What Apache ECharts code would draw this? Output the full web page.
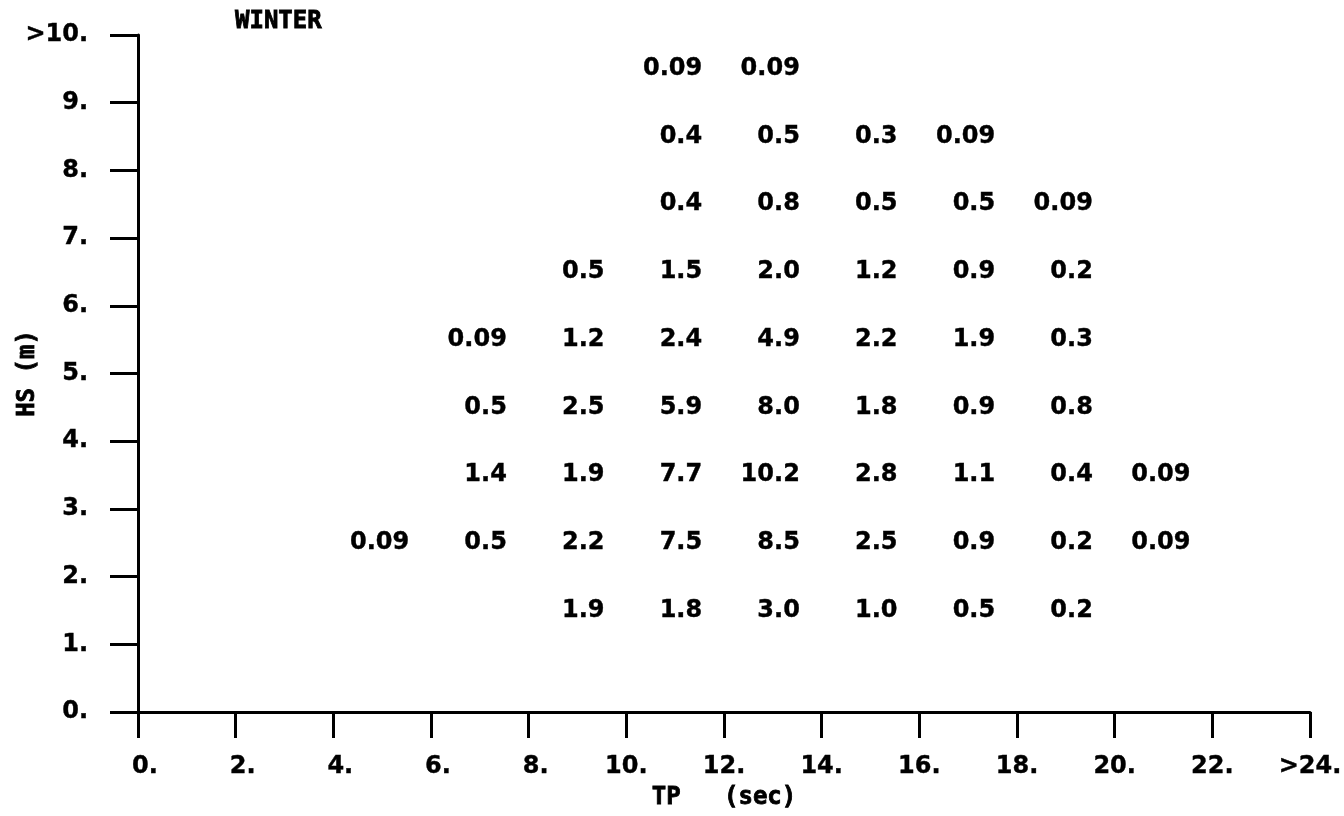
<!DOCTYPE html>
<html>
<head>
<meta charset="utf-8">
<title>WINTER HS / TP</title>
<script src="https://cdn.jsdelivr.net/npm/echarts@6/dist/echarts.min.js"></script>
<style>
  html, body { margin: 0; padding: 0; background: #fff; }
  #chart { width: 1344px; height: 816px; }
</style>
</head>
<body>
<div id="chart"></div>
<script>
// Bin centres: TP (sec) columns, 2 s wide bins
const tpCenters = [5, 7, 9, 11, 13, 15, 17, 19, 21];

// Percent occurrence for each HS bin (1 m wide), one row per HS centre
const hs9_5 = [null, null, null, 0.09, 0.09, null, null, null, null];
const hs8_5 = [null, null, null, 0.4, 0.5, 0.3, 0.09, null, null];
const hs7_5 = [null, null, null, 0.4, 0.8, 0.5, 0.5, 0.09, null];
const hs6_5 = [null, null, 0.5, 1.5, 2.0, 1.2, 0.9, 0.2, null];
const hs5_5 = [null, 0.09, 1.2, 2.4, 4.9, 2.2, 1.9, 0.3, null];
const hs4_5 = [null, 0.5, 2.5, 5.9, 8.0, 1.8, 0.9, 0.8, null];
const hs3_5 = [null, 1.4, 1.9, 7.7, 10.2, 2.8, 1.1, 0.4, 0.09];
const hs2_5 = [0.09, 0.5, 2.2, 7.5, 8.5, 2.5, 0.9, 0.2, 0.09];
const hs1_5 = [null, null, 1.9, 1.8, 3.0, 1.0, 0.5, 0.2, null];

const hsRows = [
  [9.5, hs9_5], [8.5, hs8_5], [7.5, hs7_5], [6.5, hs6_5], [5.5, hs5_5],
  [4.5, hs4_5], [3.5, hs3_5], [2.5, hs2_5], [1.5, hs1_5]
];

// Tick labels
const xTickLabels = ['0.', '2.', '4.', '6.', '8.', '10.', '12.', '14.', '16.', '18.', '20.', '22.', '>24.'];
const yTickLabels = ['0.', '1.', '2.', '3.', '4.', '5.', '6.', '7.', '8.', '9.', '>10.'];

const MONO = '"DejaVu Sans Mono", monospace';
const SANS = '"DejaVu Sans", sans-serif';
const INK = '#000';

// Heavy plotter-style text: numbers and words
const numText = {
  fontFamily: SANS, fontWeight: 'bold', fontSize: 24, color: INK,
  textBorderColor: INK, textBorderWidth: 0.4
};
const wordText = {
  fontFamily: MONO, fontWeight: 'bold', fontSize: 24, color: INK,
  textBorderColor: INK, textBorderWidth: 0.8
};

// Build the scatter points (one text label per non-empty cell)
const cells = [];
hsRows.forEach(([hs, row]) => {
  row.forEach((v, i) => {
    if (v !== null) cells.push([tpCenters[i], hs, v]);
  });
});

function fmt(v) {
  return v < 0.1 ? v.toFixed(2) : v.toFixed(1);
}

const chart = echarts.init(document.getElementById('chart'), null, { renderer: 'canvas' });

chart.setOption({
  backgroundColor: '#fff',
  animation: false,
  title: {
    text: 'WINTER',
    left: 230,
    top: 5,
    textStyle: Object.assign({}, wordText)
  },
  grid: { left: 138, right: 34, top: 35, bottom: 104, outerBoundsMode: 'none', containLabel: false },
  xAxis: {
    type: 'value',
    min: 0, max: 24, interval: 2,
    name: 'TP   (sec)',
    nameLocation: 'middle',
    nameGap: 74,
    nameMoveOverlap: false,
    nameTextStyle: Object.assign({}, wordText),
    axisLine: { show: true, onZero: false, lineStyle: { color: INK, width: 3 } },
    axisTick: { show: true, inside: false, length: 26, lineStyle: { color: INK, width: 3 } },
    axisLabel: Object.assign({
      margin: 43,
      // short labels sit a little right of their tick
      formatter: (v) => {
        const s = xTickLabels[Math.round(v / 2)];
        return s.length === 2 ? '{s|' + s + '}' : s;
      },
      rich: { s: Object.assign({ padding: [0, 0, 0, 14] }, numText) }
    }, numText),
    splitLine: { show: false }
  },
  yAxis: {
    type: 'value',
    min: 0, max: 10, interval: 1,
    name: 'HS (m)',
    nameLocation: 'middle',
    nameGap: 98,
    nameRotate: 90,
    nameMoveOverlap: false,
    nameTextStyle: Object.assign({}, wordText),
    axisLine: { show: true, onZero: false, lineStyle: { color: INK, width: 3 } },
    axisTick: { show: true, inside: false, length: 28, lineStyle: { color: INK, width: 3 } },
    axisLabel: Object.assign({
      margin: 50,
      formatter: (v) => yTickLabels[Math.round(v)]
    }, numText),
    splitLine: { show: false }
  },
  series: [{
    type: 'scatter',
    data: cells,
    symbolSize: 1,
    itemStyle: { color: 'rgba(0,0,0,0)', opacity: 1 },
    label: Object.assign({
      show: true,
      position: 'inside',
      align: 'right',
      verticalAlign: 'middle',
      offset: [27, 0],
      opacity: 1,
      formatter: (p) => fmt(p.value[2])
    }, numText)
  }]
});
</script>
</body>
</html>
